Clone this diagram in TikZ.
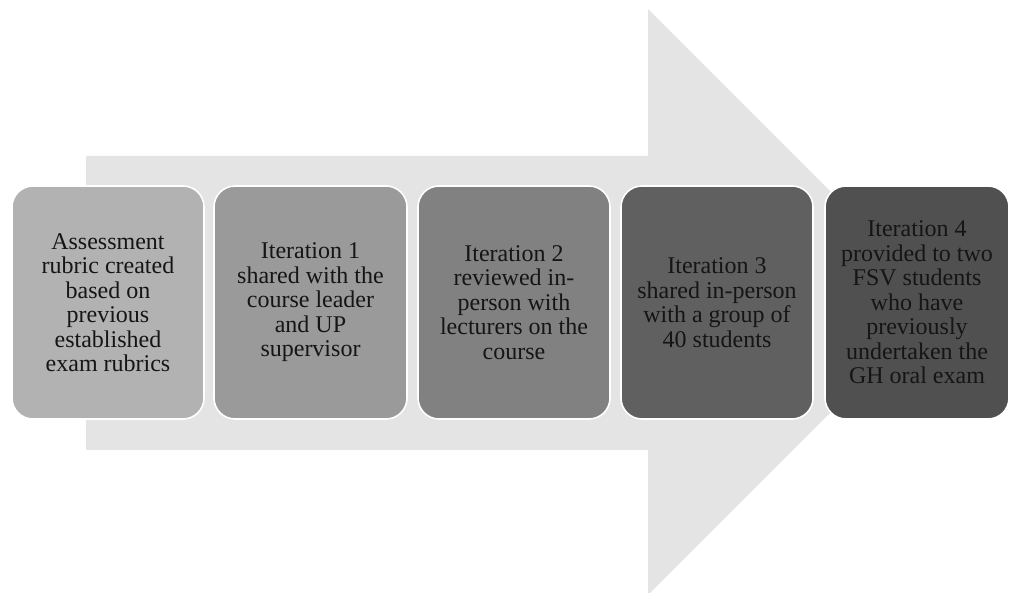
\documentclass[tikz,border=0pt]{standalone}
\usepackage{fontspec}
\setmainfont{Liberation Serif}
\definecolor{arrowgray}{HTML}{E4E4E4}
\definecolor{stepA}{HTML}{B2B2B2}
\definecolor{stepB}{HTML}{9A9A9A}
\definecolor{stepC}{HTML}{818181}
\definecolor{stepD}{HTML}{606060}
\definecolor{stepE}{HTML}{505050}
\definecolor{inkgray}{HTML}{151515}
\tikzset{
  stagebox/.style={rectangle, rounded corners=21pt, draw=white, line width=1.6pt,
    minimum height=233pt, align=center, text=inkgray, inner sep=0pt,
    font=\fontsize{24}{24.5}\selectfont}
}
\begin{document}
\begin{tikzpicture}[x=1pt, y=-1pt]
  \useasboundingbox (0,0) rectangle (1010,593);
  % big background arrow
  \fill[arrowgray] (86,156) -- (648,156) -- (648,9) -- (941,302)
    -- (648,595) -- (648,450) -- (86,450) -- cycle;
  % process stages
  \node[stagebox, fill=stepA, minimum width=192pt] (s1) at (108,302.5)
    {Assessment\\rubric created\\based on\\previous\\established\\exam rubrics};
  \node[stagebox, fill=stepB, minimum width=193pt] (s2) at (310.5,302.5)
    {Iteration 1\\shared with the\\course leader\\and UP\\supervisor};
  \node[stagebox, fill=stepC, minimum width=192pt] (s3) at (514,302.5)
    {Iteration 2\\reviewed in-\\person with\\lecturers on the\\course};
  \node[stagebox, fill=stepD, minimum width=192pt] (s4) at (717,302.5)
    {Iteration 3\\shared in-person\\with a group of\\40 students};
  \node[stagebox, fill=stepE, minimum width=184pt] (s5) at (917,302.5)
    {Iteration 4\\provided to two\\FSV students\\who have\\previously\\undertaken the\\GH oral exam};
\end{tikzpicture}
\end{document}
